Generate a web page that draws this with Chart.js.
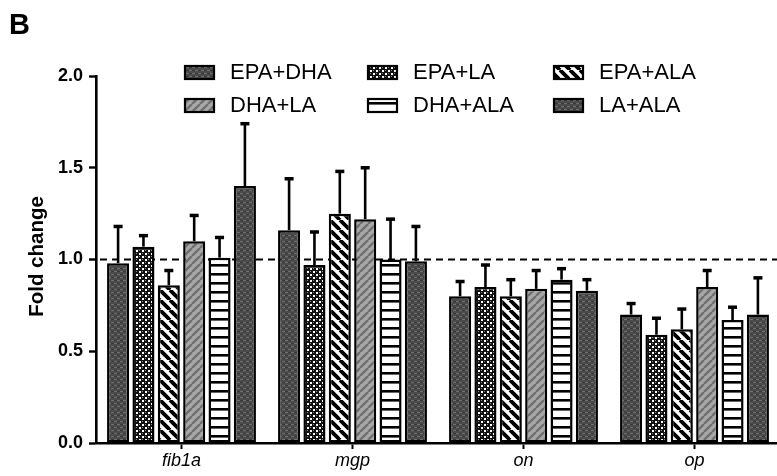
<!DOCTYPE html>
<html>
<head>
<meta charset="utf-8">
<script src="https://cdn.jsdelivr.net/npm/chart.js@4.4.1/dist/chart.umd.min.js"></script>
<style>
  html, body { margin: 0; padding: 0; background: #fff; overflow: hidden; }
  #wrap { width: 780px; height: 476px; }
</style>
</head>
<body>
<div id="wrap"><canvas id="c" width="780" height="476"></canvas></div>
<script>
// Genes on the x axis
const categories = ['fib1a', 'mgp', 'on', 'op'];

// Fatty-acid combinations (legend order)
const seriesNames = ['EPA+DHA', 'EPA+LA', 'EPA+ALA', 'DHA+LA', 'DHA+ALA', 'LA+ALA'];

// Mean fold change per gene
const epaDha = [0.98, 1.16, 0.80, 0.70];
const epaLa  = [1.07, 0.97, 0.85, 0.59];
const epaAla = [0.86, 1.25, 0.80, 0.62];
const dhaLa  = [1.10, 1.22, 0.84, 0.85];
const dhaAla = [1.01, 1.00, 0.89, 0.67];
const laAla  = [1.40, 0.99, 0.83, 0.70];

// Upper error (SD) per gene
const epaDhaErr = [0.20, 0.28, 0.08, 0.06];
const epaLaErr  = [0.06, 0.18, 0.12, 0.09];
const epaAlaErr = [0.08, 0.23, 0.09, 0.11];
const dhaLaErr  = [0.14, 0.28, 0.10, 0.09];
const dhaAlaErr = [0.11, 0.22, 0.06, 0.07];
const laAlaErr  = [0.34, 0.19, 0.06, 0.20];

// Y axis ticks and control reference level
const yTicks = [0.0, 0.5, 1.0, 1.5, 2.0];
const controlLevel = 1.0;

const canvas = document.getElementById('c');
const ctx = canvas.getContext('2d');

function makePattern(w, h, draw) {
  const c = document.createElement('canvas');
  c.width = w; c.height = h;
  draw(c.getContext('2d'), w, h);
  return ctx.createPattern(c, 'repeat');
}

// Dark textured fill
const darkTexture = makePattern(6, 6, (g) => {
  g.fillStyle = '#4b4b4b'; g.fillRect(0, 0, 6, 6);
  g.fillStyle = '#707070';
  g.fillRect(0, 1, 3, 1); g.fillRect(3, 4, 3, 1);
  g.fillStyle = '#383838';
  g.fillRect(3, 1, 3, 1); g.fillRect(0, 4, 3, 1);
});
// Checkerboard
const checker = makePattern(6, 6, (g) => {
  g.fillStyle = '#111'; g.fillRect(0, 0, 6, 6);
  g.fillStyle = '#fff';
  g.fillRect(1, 1, 2, 2); g.fillRect(4, 4, 2, 2);
  g.fillStyle = '#888';
  g.fillRect(4, 1, 1, 1); g.fillRect(1, 4, 1, 1);
});
// Black "\" stripes on white
const backStripe = makePattern(10, 10, (g, w, h) => {
  g.fillStyle = '#fff'; g.fillRect(0, 0, w, h);
  g.strokeStyle = '#000'; g.lineWidth = 3.8;
  for (let k = -1; k <= 1; k++) {
    g.beginPath(); g.moveTo(k * w, 0); g.lineTo(k * w + w, h); g.stroke();
  }
});
// Grey "/" stripes on light grey
const fwdStripe = makePattern(8, 8, (g, w, h) => {
  g.fillStyle = '#a8a8a8'; g.fillRect(0, 0, w, h);
  g.strokeStyle = '#707070'; g.lineWidth = 2.4;
  for (let k = -1; k <= 1; k++) {
    g.beginPath(); g.moveTo(k * w, h); g.lineTo(k * w + w, 0); g.stroke();
  }
});
// Horizontal black stripes on white
const horizStripe = makePattern(8, 9, (g, w, h) => {
  g.fillStyle = '#fff'; g.fillRect(0, 0, w, h);
  g.fillStyle = '#000'; g.fillRect(0, 3, w, 2.6);
});

const fills = [darkTexture, checker, backStripe, fwdStripe, horizStripe, darkTexture];
const values = [epaDha, epaLa, epaAla, dhaLa, dhaAla, laAla];
const errors = [epaDhaErr, epaLaErr, epaAlaErr, dhaLaErr, dhaAlaErr, laAlaErr];

const datasets = seriesNames.map((name, i) => ({
  label: name,
  data: values[i],
  errors: errors[i],
  backgroundColor: fills[i],
  borderColor: '#000',
  borderWidth: 2.5,
  borderSkipped: false,
  barPercentage: 0.87,
  categoryPercentage: 0.89
}));

// Dashed control line behind the bars
const controlLine = {
  id: 'controlLine',
  beforeDatasetsDraw(chart) {
    const { ctx, chartArea, scales } = chart;
    const y = scales.y.getPixelForValue(controlLevel);
    ctx.save();
    ctx.strokeStyle = '#000';
    ctx.lineWidth = 2.2;
    ctx.setLineDash([7, 5]);
    ctx.beginPath();
    ctx.moveTo(chartArea.left + 4, y);
    ctx.lineTo(chartArea.right, y);
    ctx.stroke();
    ctx.restore();
  }
};

// Upper error bars
const errorBars = {
  id: 'errorBars',
  afterDatasetsDraw(chart) {
    const { ctx, scales } = chart;
    ctx.save();
    ctx.strokeStyle = '#000';
    chart.data.datasets.forEach((ds, i) => {
      const meta = chart.getDatasetMeta(i);
      meta.data.forEach((bar, j) => {
        const top = scales.y.getPixelForValue(ds.data[j] + ds.errors[j]);
        ctx.lineWidth = 2.6;
        ctx.beginPath();
        ctx.moveTo(bar.x, bar.y);
        ctx.lineTo(bar.x, top);
        ctx.stroke();
        ctx.lineWidth = 3.5;
        ctx.beginPath();
        ctx.moveTo(bar.x - 4.5, top);
        ctx.lineTo(bar.x + 4.5, top);
        ctx.stroke();
      });
    });
    ctx.restore();
  }
};

// Panel letter, y-axis title and a three-column legend
const decorations = {
  id: 'decorations',
  afterDraw(chart) {
    const { ctx, chartArea } = chart;
    ctx.save();
    ctx.fillStyle = '#000';
    ctx.font = 'bold 29px "Liberation Sans", Arial, sans-serif';
    ctx.textBaseline = 'alphabetic';
    ctx.textAlign = 'left';
    ctx.fillText('B', 9, 34);

    ctx.save();
    ctx.translate(37, (chartArea.top + chartArea.bottom) / 2 - 3);
    ctx.rotate(-Math.PI / 2);
    ctx.textAlign = 'center';
    ctx.textBaseline = 'middle';
    ctx.font = 'bold 20.5px "Liberation Sans", Arial, sans-serif';
    ctx.fillText('Fold change', 0, 0);
    ctx.restore();

    const colX = [185, 368, 554];
    const rowY = [72, 105];
    ctx.font = '22px "Liberation Sans", Arial, sans-serif';
    ctx.textAlign = 'left';
    ctx.textBaseline = 'middle';
    chart.data.datasets.forEach((ds, i) => {
      const x = colX[i % 3];
      const y = rowY[Math.floor(i / 3)];
      ctx.fillStyle = ds.backgroundColor;
      ctx.fillRect(x, y - 6, 29, 13);
      ctx.strokeStyle = '#000';
      ctx.lineWidth = 2.2;
      ctx.strokeRect(x, y - 6, 29, 13);
      ctx.fillStyle = '#000';
      ctx.fillText(ds.label, x + 45, y + 1);
    });
    ctx.restore();
  }
};

new Chart(canvas, {
  type: 'bar',
  data: { labels: categories, datasets },
  options: {
    responsive: false,
    animation: false,
    devicePixelRatio: 1,
    layout: { padding: { top: 76, left: 0, right: 0, bottom: 0 } },
    plugins: { legend: { display: false }, tooltip: { enabled: false } },
    scales: {
      x: {
        offset: true,
        border: { display: true, color: '#000', width: 2.6 },
        grid: { display: true, drawOnChartArea: false, offset: false, tickLength: 6, tickWidth: 2, tickColor: '#000' },
        ticks: { color: '#000', padding: 1, font: { family: '"Liberation Sans", Arial, sans-serif', size: 18, style: 'italic' } },
        afterFit(scale) { scale.height = 33; }
      },
      y: {
        min: 0,
        max: 2,
        afterBuildTicks(scale) { scale.ticks = yTicks.map(v => ({ value: v })); },
        border: { display: true, color: '#000', width: 2.6 },
        grid: { display: true, drawOnChartArea: false, tickLength: 7, tickWidth: 2.4, tickColor: '#000' },
        ticks: {
          color: '#000',
          padding: 6,
          font: { family: '"Liberation Sans", Arial, sans-serif', size: 18, weight: 'bold' },
          callback: (v) => Number(v).toFixed(1)
        },
        afterFit(scale) { scale.width = 96; }
      }
    }
  },
  plugins: [controlLine, errorBars, decorations]
});
</script>
</body>
</html>
